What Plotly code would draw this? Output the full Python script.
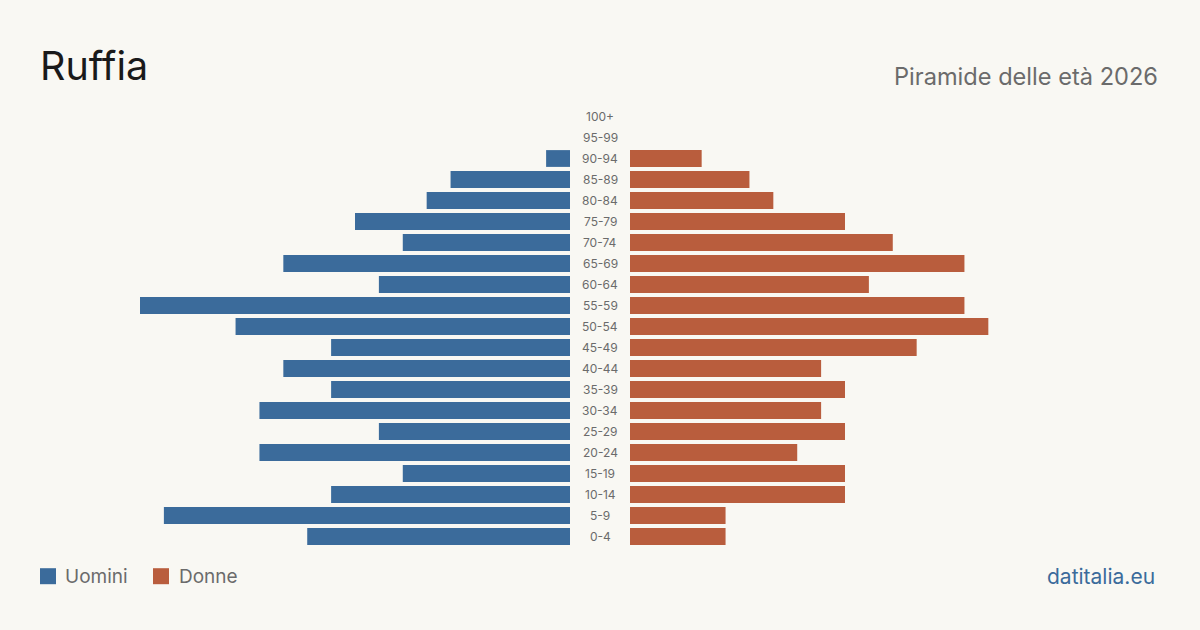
import plotly.graph_objects as go

age_groups = ["0-4", "5-9", "10-14", "15-19", "20-24", "25-29", "30-34", "35-39",
              "40-44", "45-49", "50-54", "55-59", "60-64", "65-69", "70-74", "75-79",
              "80-84", "85-89", "90-94", "95-99", "100+"]
men = [11, 17, 10, 7, 13, 8, 13, 10, 12, 10, 14, 18, 8, 12, 7, 9, 6, 5, 1, 0, 0]
women = [4, 4, 9, 9, 7, 9, 8, 9, 8, 12, 15, 14, 10, 14, 11, 9, 6, 5, 3, 0, 0]

title = "Ruffia"
subtitle = "Piramide delle età 2026"
men_label = "Uomini"
women_label = "Donne"
source = "datitalia.eu"

BLUE = "#3b6b9b"
ORANGE = "#b95d3d"
BG = "#f9f8f3"
GRAY = "#6b6b6b"
FONT = "Inter"

W, H = 1200, 630
TOP, BOTTOM = 105.8, 546.8
xmax = max(max(men), max(women))


def px(x):
    return x / W


def py(y):
    return (BOTTOM - y) / (BOTTOM - TOP)


fig = go.Figure()
fig.add_trace(go.Bar(y=age_groups, x=men, orientation="h", marker_color=BLUE,
                     marker_line_width=0,
                     xaxis="x", yaxis="y", name=men_label, showlegend=False,
                     hoverinfo="x+y"))
fig.add_trace(go.Bar(y=age_groups, x=women, orientation="h", marker_color=ORANGE,
                     marker_line_width=0,
                     xaxis="x2", yaxis="y", name=women_label, showlegend=False,
                     hoverinfo="x+y"))

annotations = []
for ag in age_groups:
    annotations.append(dict(x=0.5, y=ag, xref="paper", yref="y", text=ag,
                            showarrow=False, xanchor="center", yanchor="middle",
                            font=dict(family=FONT, size=12, color=GRAY)))

annotations += [
    dict(x=px(38), y=py(65.5), xref="paper", yref="paper", text=title, showarrow=False,
         xanchor="left", yanchor="middle", font=dict(family=FONT, size=39.5, color="#1a1a1a")),
    dict(x=px(1160), y=py(76), xref="paper", yref="paper", text=subtitle, showarrow=False,
         xanchor="right", yanchor="middle", font=dict(family=FONT, size=23.6, color=GRAY)),
    dict(x=px(63), y=py(576), xref="paper", yref="paper", text=men_label, showarrow=False,
         xanchor="left", yanchor="middle", font=dict(family=FONT, size=19, color=GRAY)),
    dict(x=px(177), y=py(576), xref="paper", yref="paper", text=women_label, showarrow=False,
         xanchor="left", yanchor="middle", font=dict(family=FONT, size=19, color=GRAY)),
    dict(x=px(1157), y=py(576), xref="paper", yref="paper", text=source, showarrow=False,
         xanchor="right", yanchor="middle", font=dict(family=FONT, size=21, color=BLUE)),
]

shapes = [
    dict(type="rect", xref="paper", yref="paper", x0=px(40), x1=px(56), y0=py(568), y1=py(584),
         fillcolor=BLUE, line_width=0),
    dict(type="rect", xref="paper", yref="paper", x0=px(153), x1=px(169), y0=py(568), y1=py(584),
         fillcolor=ORANGE, line_width=0),
]

fig.update_layout(
    width=W, height=H,
    margin=dict(l=0, r=0, t=TOP, b=H - BOTTOM, pad=0),
    paper_bgcolor=BG, plot_bgcolor=BG,
    bargap=0.2,
    xaxis=dict(domain=[px(140), px(570)], range=[xmax, 0], visible=False, fixedrange=True),
    xaxis2=dict(domain=[px(630), px(1060)], range=[0, xmax], visible=False, fixedrange=True),
    yaxis=dict(categoryorder="array", categoryarray=age_groups, range=[-0.5, len(age_groups) - 0.5],
               visible=False, fixedrange=True),
    annotations=annotations,
    shapes=shapes,
    font=dict(family=FONT),
)

fig.write_html("out.html")
